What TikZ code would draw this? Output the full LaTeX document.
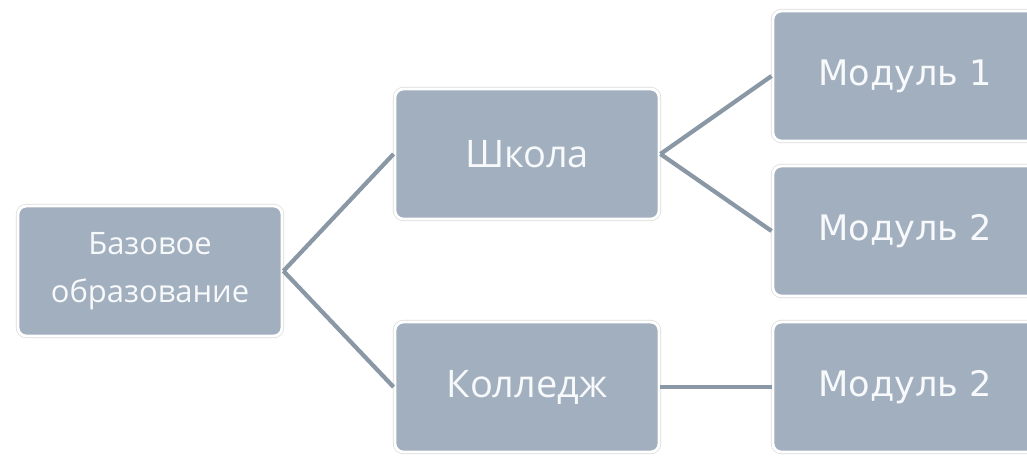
\documentclass[tikz,border=0pt]{standalone}
\usepackage{fontspec}
\setmainfont{Open Sans}
\newfontfamily\modfont{DejaVu Sans}
\usepackage{tikz}
\usepackage{xcolor}
\usetikzlibrary{arrows.meta,calc}

\definecolor{boxfill}{HTML}{A1AFBF}
\definecolor{linkgray}{HTML}{8A97A5}
\definecolor{textwhite}{HTML}{F7F9FB}

\tikzset{
    box/.style={preaction={draw=black!14, line width=3pt, rounded corners=6pt},
        fill=boxfill, draw=white, line width=2pt, rounded corners=6pt,
        minimum width=6.6cm, minimum height=3.25cm, inner sep=0pt,
        text=textwhite, align=center},
    link/.style={draw=linkgray, line width=3pt}
}

\begin{document}
\begin{tikzpicture}[x=0.025cm, y=-0.025cm]
    \fill[white] (0,0) rectangle (1027,456);
    \clip (0,0) rectangle (1027,456);

    \node[box, font=\fontsize{22}{34}\selectfont] (base) at (150,271) {Базовое\\образование};
    \node[box, font=\fontsize{27}{32}\selectfont] (school) at (527,154) {Школа};
    \node[box, font=\fontsize{27}{32}\selectfont] (college) at (527,387) {Колледж};

    \node[box, font=\modfont\fontsize{25}{30}\selectfont] (modA) at (905,76) {Модуль 1};
    \node[box, font=\modfont\fontsize{25}{30}\selectfont] (modB) at (905,231) {Модуль 2};
    \node[box, font=\modfont\fontsize{25}{30}\selectfont] (modC) at (905,387) {Модуль 2};

    \path[link] (base.east) -- (school.west);
    \path[link] (base.east) -- (college.west);
    \path[link] (school.east) -- (modA.west);
    \path[link] (school.east) -- (modB.west);
    \path[link] (college.east) -- (modC.west);
\end{tikzpicture}
\end{document}
